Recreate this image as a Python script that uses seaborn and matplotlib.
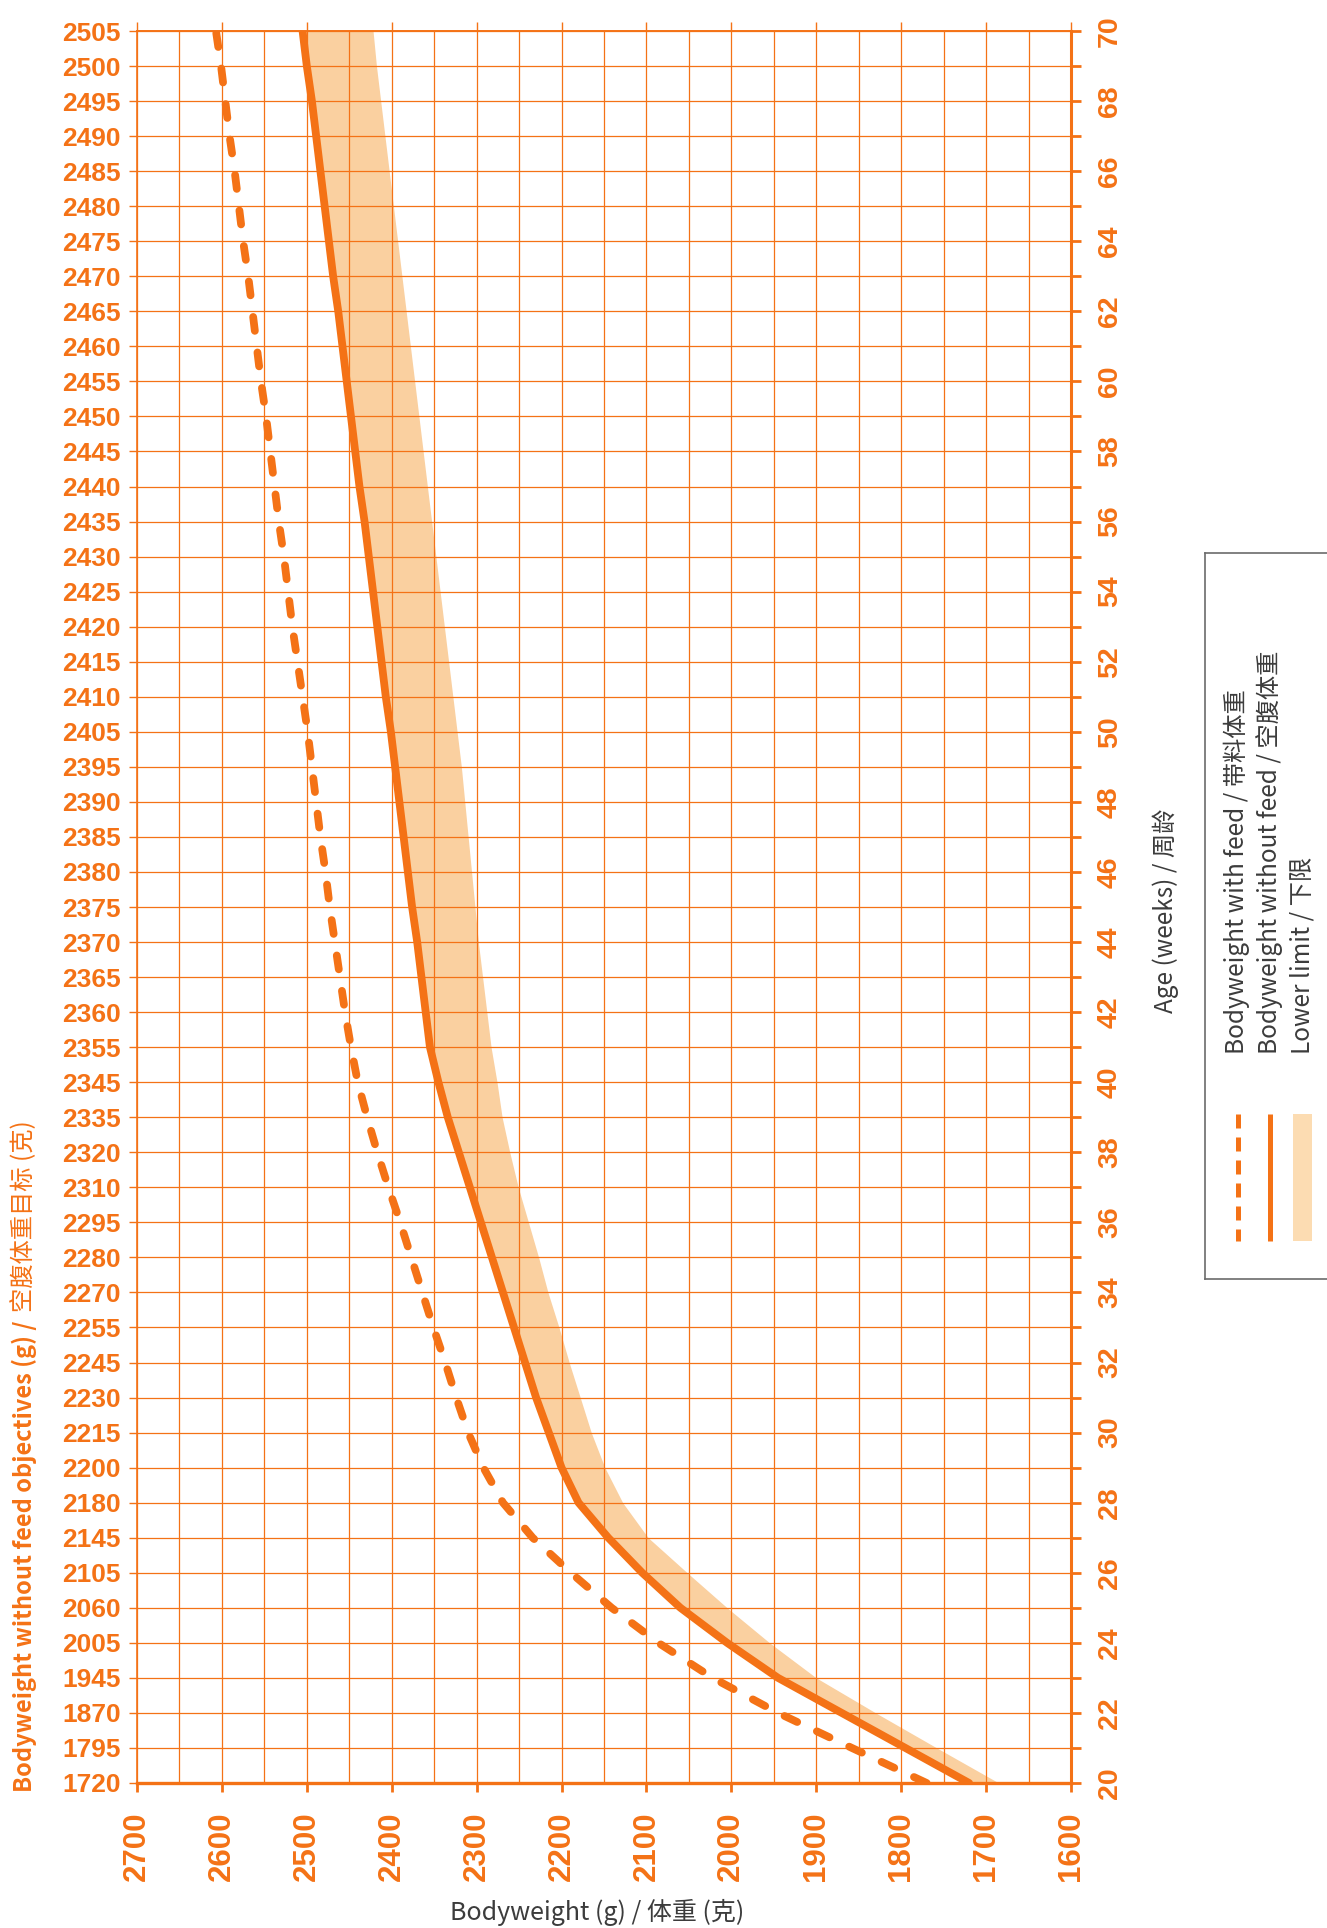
import numpy as np
import pandas as pd
import seaborn as sns
import matplotlib.pyplot as plt
from matplotlib.patches import Rectangle

ORANGE = '#F47216'
BAND = '#FAD0A0'
BAND_LEGEND = '#FCDCB2'
GREY = '#3C3C3C'
CJK = ['Noto Sans CJK SC', 'DejaVu Sans']

# data
weeks = list(range(20, 71))
# left tick labels (objectives table)
bw_objectives = [1720, 1795, 1870, 1945, 2005, 2060, 2105, 2145, 2180, 2200,
                 2215, 2230, 2245, 2255, 2270, 2280, 2295, 2310, 2320, 2335,
                 2345, 2355, 2360, 2365, 2370, 2375, 2380, 2385, 2390, 2395,
                 2405, 2410, 2415, 2420, 2425, 2430, 2435, 2440, 2445, 2450,
                 2455, 2460, 2465, 2470, 2475, 2480, 2485, 2490, 2495, 2500,
                 2505]
# solid curve as drawn (slightly smoother than the rounded table)
bw_without_feed = [1720, 1795, 1870, 1945, 2005, 2060, 2105, 2145, 2180, 2200,
                   2215, 2230, 2243, 2256, 2269, 2282, 2295, 2308, 2321, 2334,
                   2345, 2355, 2360, 2365, 2370, 2376, 2381, 2386, 2391, 2396,
                   2401, 2407, 2412, 2417, 2422, 2427, 2432, 2438, 2443, 2448,
                   2453, 2458, 2463, 2469, 2474, 2479, 2484, 2489, 2494, 2500,
                   2505]
bw_with_feed = [1770, 1858, 1945, 2022, 2086, 2141, 2189, 2234, 2269, 2292,
                2310, 2324, 2337, 2351, 2364, 2377, 2390, 2404, 2417, 2429,
                2440, 2448, 2455, 2461, 2467, 2473, 2478, 2484, 2489, 2494,
                2499, 2505, 2511, 2517, 2522, 2527, 2533, 2538, 2543, 2548,
                2554, 2559, 2564, 2569, 2575, 2580, 2585, 2591, 2596, 2601,
                2607]
lower_limit = [1685, 1758, 1830, 1900, 1955, 2005, 2052, 2098, 2128, 2149,
               2165, 2178, 2191, 2203, 2216, 2227, 2239, 2251, 2261, 2270,
               2276, 2283, 2288, 2293, 2298, 2302, 2306, 2310, 2314, 2318,
               2323, 2328, 2333, 2338, 2343, 2348, 2353, 2358, 2363, 2368,
               2373, 2378, 2383, 2388, 2393, 2398, 2403, 2408, 2413, 2418,
               2422]
x_major = list(range(2700, 1599, -100))
x_minor = list(range(2650, 1600, -100))

df = pd.DataFrame({'week': weeks, 'without': bw_without_feed,
                   'with': bw_with_feed, 'lower': lower_limit})

sns.set_theme(style='white')
plt.rcParams['font.family'] = ['Liberation Sans', 'Noto Sans CJK SC', 'DejaVu Sans']

W, H = 1327, 1928
fig = plt.figure(figsize=(W / 100, H / 100), dpi=100)
fig.patch.set_facecolor('white')
ax = fig.add_axes([137 / W, 145 / H, 934 / W, 1752 / H])

# band, then the two lines
ax.fill_betweenx(df['week'], df['without'], df['lower'], color=BAND, lw=0,
                 zorder=0.3)
sns.lineplot(data=df, x='without', y='week', sort=False, estimator=None,
             color=ORANGE, lw=5.6, legend=False, ax=ax)
sns.lineplot(data=df, x='with', y='week', sort=False, estimator=None,
             color=ORANGE, lw=5.6, legend=False, ax=ax)
dashed = ax.lines[-1]
dashed.set_linestyle((0, (1.8, 2.8)))
dashed.set_dash_capstyle('round')

ax.set_xlim(2700, 1600)
ax.set_ylim(20, 70)
ax.set_xlabel('')
ax.set_ylabel('')

# grid
ax.set_xticks(x_major)
ax.set_xticks(x_minor, minor=True)
ax.set_yticks(weeks)
ax.grid(True, which='both', axis='x', color=ORANGE, lw=0.9)
ax.grid(True, which='major', axis='y', color=ORANGE, lw=0.9)
ax.set_axisbelow(True)

# bottom / top axis
ax.set_xticklabels([str(v) for v in x_major], rotation=90, fontsize=22.5,
                   fontweight='bold', color=ORANGE)
ax.tick_params(axis='x', which='major', bottom=True, top=True,
               direction='out', length=6.5, width=2.0, color=ORANGE, pad=14)
ax.tick_params(axis='x', which='minor', length=0)
for t in ax.xaxis.get_major_ticks():
    t.tick2line.set_markeredgewidth(1.0)

# left axis: objectives
ax.set_yticklabels([str(v) for v in bw_objectives], fontsize=19,
                   fontweight='bold', color=ORANGE)
ax.tick_params(axis='y', left=True, direction='out', length=5.8, width=1.0,
               color=ORANGE, pad=5.8)

for side, lw in [('left', 1.2), ('top', 1.4), ('bottom', 2.4)]:
    ax.spines[side].set_color(ORANGE)
    ax.spines[side].set_linewidth(lw)
ax.spines['right'].set_visible(False)

# right axis: age
ax2 = ax.twinx()
ax2.set_ylim(20, 70)
ax2.set_yticks(weeks)
ax2.set_yticklabels([str(w) if w % 2 == 0 else '' for w in weeks],
                    rotation=90, va='center', fontsize=20.5, fontweight='bold',
                    color=ORANGE)
ax2.tick_params(axis='y', right=True, direction='out', length=7.2, width=2.0,
                color=ORANGE, pad=11.5)
ax2.grid(False)
for side in ['left', 'top', 'bottom']:
    ax2.spines[side].set_visible(False)
ax2.spines['right'].set_color(ORANGE)
ax2.spines['right'].set_linewidth(2.2)

# axis titles
fig.text(597 / W, 1 - 1912 / H, 'Bodyweight (g) / 体重 (克)', ha='center',
         va='center', fontsize=18, color=GREY, family=CJK)
fig.text(1166 / W, 1 - 911 / H, 'Age (weeks) / 周龄', rotation=90,
         ha='center', va='center', fontsize=17.5, color=GREY, family=CJK)

t1 = fig.text(24 / W, 1 - 1792 / H, 'Bodyweight without feed objectives (g) /',
              rotation=90, ha='center', va='bottom', fontsize=17,
              fontweight='bold', color=ORANGE, family=CJK)
fig.canvas.draw()
bb = t1.get_window_extent()
fig.text(24 / W, (bb.y1 + 8) / fig.bbox.height, '空腹体重目标 (克)',
         rotation=90, ha='center', va='bottom', fontsize=17.5, color=ORANGE,
         family=CJK)

# legend, drawn by hand because it is rotated
lax = fig.add_axes([1205 / W, 1 - 1279 / H, 200 / W, 726 / H])
lax.set_xlim(1205, 1405)
lax.set_ylim(1279, 553)
lax.set_xticks([])
lax.set_yticks([])
lax.set_facecolor('white')
for s in lax.spines.values():
    s.set_color('#6b6b6b')
    s.set_linewidth(1.2)

lax.plot([1238, 1238], [1114, 1241], color=ORANGE, lw=3.6,
         ls=(0, (2.8, 1.8)), dash_capstyle='butt')
lax.plot([1270, 1270], [1114, 1241], color=ORANGE, lw=3.6,
         solid_capstyle='butt')
lax.add_patch(Rectangle((1293, 1114), 19, 127, color=BAND_LEGEND, lw=0))

legend_texts = ['Bodyweight with feed / 带料体重',
                'Bodyweight without feed / 空腹体重',
                'Lower limit / 下限']
for xpos, txt in zip([1237, 1270, 1302], legend_texts):
    lax.text(xpos, 1054, txt, rotation=90, ha='center', va='bottom',
             fontsize=17.5, color=GREY, family=CJK)

fig.savefig('out.png', dpi=100)
